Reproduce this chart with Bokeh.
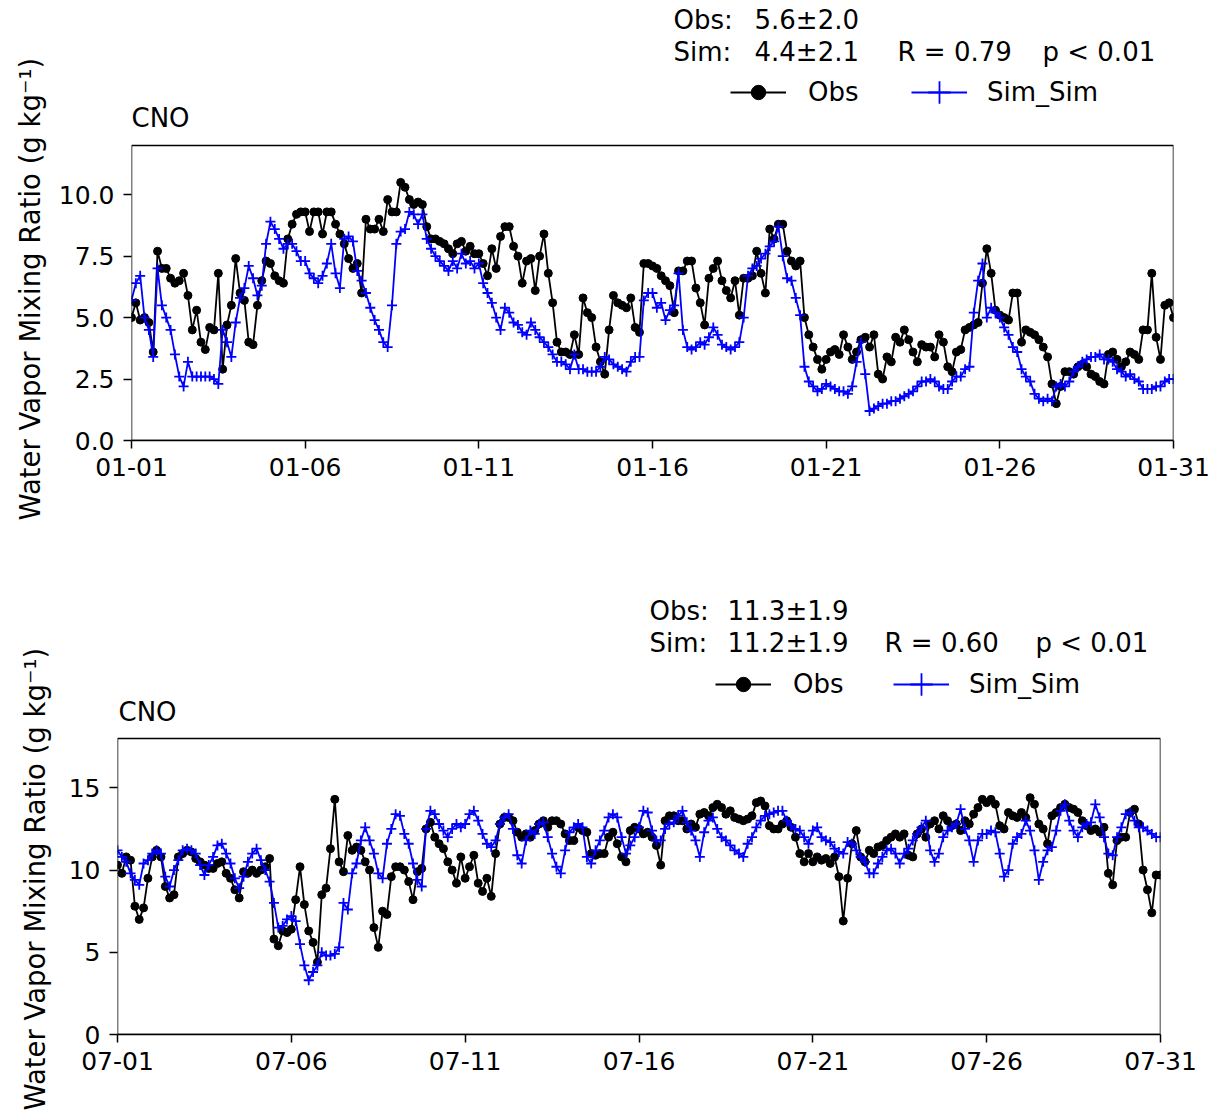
import pandas as pd
from bokeh.plotting import figure
from bokeh.models import (ColumnDataSource, Range1d, FixedTicker, DatetimeTickFormatter,
                          NumeralTickFormatter, Label, Legend, LegendItem, BoxAnnotation, Title)
from bokeh.layouts import column
from bokeh.embed import file_html
from bokeh.resources import INLINE

FONT = "DejaVu Sans"

# ---------------- data (3-hourly) ----------------
jan_obs = [
    5.0, 5.6, 4.9, 5.0, 4.8, 3.6, 7.7, 7.0,
    7.0, 6.6, 6.4, 6.5, 6.8, 5.9, 4.5, 5.3,
    4.0, 3.7, 4.6, 4.5, 6.8, 2.9, 4.7, 5.5,
    7.4, 6.0, 5.7, 4.0, 3.9, 5.5, 6.5, 7.3,
    7.2, 6.7, 6.5, 6.4, 8.2, 8.8, 9.2, 9.3,
    9.3, 8.5, 9.3, 9.3, 8.4, 9.3, 9.3, 8.8,
    8.4, 8.0, 7.4, 7.0, 7.2, 6.0, 9.0, 8.6,
    8.6, 9.0, 8.5, 9.8, 9.3, 9.3, 10.5, 10.3,
    9.8, 9.6, 9.7, 9.6, 8.7, 8.2, 8.2, 8.1,
    8.0, 7.8, 7.6, 8.0, 8.1, 7.7, 7.9, 7.6,
    7.6, 7.2, 6.7, 7.8, 7.0, 8.3, 8.7, 8.7,
    7.9, 7.5, 6.4, 7.3, 7.4, 6.1, 7.5, 8.4,
    6.8, 5.6, 4.0, 3.6, 3.6, 3.5, 4.3, 3.5,
    5.8, 5.2, 5.0, 3.8, 3.2, 2.7, 4.5, 5.9,
    5.6, 5.5, 5.4, 5.8, 4.6, 4.4, 7.2, 7.2,
    7.1, 7.0, 6.7, 6.5, 6.3, 5.2, 6.9, 6.9,
    7.3, 7.3, 6.2, 5.6, 4.7, 6.6, 7.0, 7.3,
    6.5, 6.1, 5.8, 6.5, 5.1, 6.6, 6.6, 6.7,
    7.7, 6.8, 6.0, 8.6, 8.2, 8.8, 8.8, 7.7,
    7.3, 7.1, 7.3, 5.0, 4.3, 3.8, 3.3, 2.9,
    3.3, 3.6, 3.7, 3.5, 4.3, 3.8, 3.3, 3.6,
    4.1, 4.2, 3.8, 4.3, 2.7, 2.5, 3.4, 3.2,
    4.2, 4.0, 4.5, 4.1, 3.6, 3.2, 3.9, 3.8,
    3.8, 3.4, 4.3, 4.0, 3.0, 2.8, 3.6, 3.7,
    4.5, 4.6, 4.7, 4.8, 6.4, 7.8, 6.8, 5.3,
    5.1, 5.0, 4.9, 6.0, 6.0, 4.0, 4.5, 4.4,
    4.3, 4.1, 3.8, 3.4, 2.3, 1.5, 2.2, 2.8,
    2.8, 2.7, 3.0, 3.1, 3.0, 2.7, 2.6, 2.4,
    2.3, 3.5, 3.6, 3.3, 3.0, 3.2, 3.6, 3.5,
    3.3, 4.5, 4.5, 6.8, 4.2, 3.3, 5.5, 5.6,
    5.0,
]
jan_sim = [
    5.7, 6.4, 6.7, 5.0, 4.5, 3.4, 7.0, 5.5,
    5.0, 4.5, 3.5, 2.6, 2.2, 3.2, 2.6, 2.6,
    2.6, 2.6, 2.6, 2.5, 2.3, 4.5, 4.0, 3.4,
    4.8, 5.8, 6.2, 7.1, 6.6, 5.9, 6.3, 8.0,
    8.9, 8.6, 8.2, 7.8, 8.0, 8.0, 7.7, 7.3,
    7.3, 6.8, 6.6, 6.4, 6.7, 7.2, 8.0, 6.8,
    6.2, 8.2, 8.3, 8.1, 6.9, 6.5, 6.0, 5.4,
    4.9, 4.5, 4.0, 3.8, 5.5, 8.0, 8.5, 8.6,
    9.3, 9.2, 8.8, 9.2, 8.2, 7.8, 7.5, 7.3,
    7.1, 6.9, 7.3, 7.0, 7.6, 7.2, 7.3, 7.0,
    7.2, 6.4, 6.0, 5.6, 5.0, 4.5, 5.4, 5.2,
    4.8, 4.7, 4.4, 4.3, 4.8, 4.5, 4.2, 4.0,
    3.8, 3.5, 3.2, 3.2, 3.1, 2.9, 3.5, 2.9,
    2.9, 2.8, 2.8, 2.8, 3.0, 3.4, 3.3, 3.1,
    3.0, 2.9, 2.8, 3.2, 3.4, 3.4, 5.7, 6.0,
    6.0, 5.4, 5.6, 4.9, 5.3, 5.5, 6.8, 4.5,
    3.8, 3.7, 3.8, 4.0, 3.9, 4.2, 4.6, 4.3,
    3.9, 3.8, 3.7, 3.8, 4.0, 5.0, 6.7, 7.0,
    7.1, 7.4, 7.6, 7.9, 8.1, 8.7, 7.5, 6.6,
    6.5, 5.8, 5.1, 3.0, 2.4, 2.2, 2.0, 2.1,
    2.3, 2.2, 2.1, 2.0, 2.0, 1.9, 2.2, 3.2,
    4.0, 2.7, 1.2, 1.3, 1.4, 1.5, 1.5, 1.6,
    1.6, 1.7, 1.8, 1.9, 2.0, 2.2, 2.4, 2.4,
    2.5, 2.4, 2.2, 2.1, 2.1, 2.4, 2.6, 2.6,
    2.9, 3.0, 5.2, 6.5, 7.2, 5.0, 5.4, 5.2,
    5.0, 4.6, 4.3, 3.8, 3.6, 2.9, 2.6, 2.4,
    1.9, 1.7, 1.6, 1.7, 1.6, 2.2, 2.3, 2.2,
    2.4, 2.8, 3.0, 3.2, 3.3, 3.4, 3.4, 3.5,
    3.3, 3.3, 3.2, 2.9, 2.8, 2.6, 2.7, 2.5,
    2.4, 2.1, 2.1, 2.1, 2.2, 2.2, 2.4, 2.5,
    2.5,
]
jul_obs = [
    10.3, 9.8, 10.8, 10.6, 7.8, 7.0, 7.7, 9.5,
    10.8, 11.2, 10.8, 9.0, 8.3, 8.5, 10.8, 11.0,
    11.2, 11.1, 10.7, 10.5, 10.3, 10.1, 10.1, 10.4,
    10.5, 9.8, 9.5, 8.8, 8.3, 9.9, 9.8, 10.0,
    9.8, 10.0, 10.2, 10.7, 5.8, 5.4, 6.3, 6.2,
    6.4, 8.2, 10.2, 7.9, 6.3, 5.6, 4.4, 8.5,
    8.9, 11.3, 14.3, 10.5, 9.9, 12.1, 11.2, 11.4,
    11.2, 10.5, 10.0, 6.5, 5.3, 7.5, 7.3, 9.6,
    10.2, 10.2, 10.0, 9.3, 8.2, 9.9, 10.1, 12.5,
    12.9, 12.0, 11.6, 11.3, 10.5, 10.0, 9.2, 10.8,
    9.5, 10.2, 10.9, 9.2, 8.7, 9.5, 8.4, 11.0,
    12.8, 13.2, 13.2, 13.0, 12.3, 12.0, 12.2, 12.0,
    12.4, 12.8, 13.0, 12.6, 13.0, 13.0, 12.8, 12.2,
    11.8, 11.8, 12.6, 12.4, 12.3, 11.0, 10.9, 11.0,
    11.0, 12.0, 12.3, 11.6, 10.8, 10.5, 12.4, 12.6,
    12.5, 12.2, 12.3, 12.0, 11.5, 10.3, 13.0, 13.3,
    13.3, 13.0, 13.0, 12.5, 12.8, 12.6, 13.4, 13.5,
    13.3, 13.8, 14.0, 13.8, 13.4, 13.6, 13.2, 13.1,
    13.0, 13.1, 13.3, 14.1, 14.2, 13.9, 12.7, 12.5,
    12.5, 12.8, 13.0, 12.6, 12.0, 11.0, 10.5, 11.0,
    10.5, 10.8, 10.6, 10.7, 10.4, 10.8, 9.6, 6.9,
    9.5, 11.6, 12.4, 10.8, 10.5, 11.2, 11.0, 11.4,
    11.5, 11.8, 12.0, 12.2, 12.0, 12.2, 10.9, 10.8,
    12.2, 12.5, 12.0, 12.8, 13.0, 12.5, 13.3, 13.0,
    12.7, 12.8, 12.4, 13.0, 12.8, 13.4, 13.8, 14.3,
    14.1, 14.3, 14.0, 12.7, 12.5, 13.5, 13.3, 13.2,
    13.5, 13.2, 14.4, 14.0, 12.8, 12.5, 11.6, 13.3,
    13.5, 13.8, 14.0, 13.8, 13.7, 13.5, 13.0, 12.7,
    12.4, 12.5, 12.3, 12.6, 9.8, 9.1, 11.8, 12.0,
    12.0, 13.5, 13.7, 12.8, 10.0, 8.8, 7.4, 9.7,
    9.7,
]
jul_sim = [
    11.2, 10.8, 10.5, 9.8, 9.4, 9.1, 10.4, 10.6,
    11.0, 11.2, 11.0, 9.6, 9.0, 10.0, 10.6, 11.2,
    11.3, 11.2, 11.0, 10.3, 9.7, 10.3, 10.8, 11.5,
    11.6, 11.0, 10.4, 9.5, 8.9, 9.6, 10.5, 11.0,
    11.3, 10.6, 10.0, 9.3, 8.0, 6.5, 6.6, 7.0,
    7.2, 6.9, 5.5, 4.2, 3.3, 3.8, 4.2, 5.0,
    4.8, 4.8, 4.9, 5.3, 8.0, 7.6, 9.8, 10.4,
    11.8, 12.6, 11.8, 11.0, 9.8, 9.5, 11.6, 12.5,
    13.4, 13.3, 12.2, 11.6, 10.4, 9.4, 9.0, 12.5,
    13.6, 13.4, 12.8, 12.4, 12.0, 12.5, 12.8, 12.6,
    12.8, 13.4, 13.6, 13.0, 12.2, 11.6, 11.4, 11.8,
    12.8, 13.2, 13.4, 12.5, 10.9, 10.4, 11.8, 12.4,
    12.2, 12.8, 12.9, 12.0, 11.0, 10.2, 9.8, 11.2,
    12.3, 12.6, 12.8, 12.6, 10.8, 10.4, 11.2, 11.8,
    12.4, 13.2, 13.4, 13.2, 12.0, 11.0, 11.5, 12.0,
    12.6, 13.6, 13.5, 12.4, 11.8, 11.8, 12.5, 12.8,
    12.9, 13.3, 13.6, 12.9, 12.4, 11.8, 10.8, 12.3,
    13.0, 13.2, 12.5, 12.0, 11.8, 11.5, 11.2, 11.0,
    10.8, 11.6, 12.0, 12.6, 13.0, 13.3, 13.4, 13.5,
    13.6, 13.6, 13.0, 12.7, 12.5, 12.4, 12.0, 11.6,
    12.4, 12.6, 12.0, 11.8, 11.7, 11.3, 11.1, 11.0,
    11.7, 11.6, 11.2, 10.8, 10.5, 9.8, 9.8, 10.4,
    10.8, 11.2, 11.3, 11.0, 10.4, 11.0, 11.3, 11.8,
    12.2, 12.6, 13.0, 11.2, 10.5, 11.0, 12.0, 12.4,
    12.6, 12.8, 13.7, 12.5, 11.8, 10.5, 11.8, 12.2,
    12.2, 12.4, 12.3, 11.0, 9.6, 10.0, 11.6, 12.0,
    12.2, 13.0, 12.4, 11.2, 9.4, 10.5, 11.2, 11.4,
    12.4, 13.6, 14.0, 13.0, 12.4, 12.0, 12.6, 12.8,
    12.9, 14.0, 13.2, 12.0, 11.0, 10.9, 12.0, 12.6,
    13.4, 13.5, 13.0, 12.6, 12.6, 12.4, 12.2, 12.0,
    12.0,
]

jan_start = "2019-01-01"
jul_start = "2019-07-01"
jan_xticks = ["2019-01-01", "2019-01-06", "2019-01-11", "2019-01-16",
              "2019-01-21", "2019-01-26", "2019-01-31"]
jul_xticks = ["2019-07-01", "2019-07-06", "2019-07-11", "2019-07-16",
              "2019-07-21", "2019-07-26", "2019-07-31"]
jan_yticks = [0, 2.5, 5, 7.5, 10]
jul_yticks = [0, 5, 10, 15]
jan_ymax = 12
jul_ymax = 18
station = "CNO"
jan_stats = {"obs": "5.6±2.0", "sim": "4.4±2.1", "r": "R = 0.79", "p": "p < 0.01"}
jul_stats = {"obs": "11.3±1.9", "sim": "11.2±1.9", "r": "R = 0.60", "p": "p < 0.01"}
ylabel = "Water Vapor Mixing Ratio (g kg\u207b\u00b9)"


def ms(t):
    return pd.Timestamp(t).value / 1e6


def make_panel(obs, sim, start, xticks, yticks, ymax, yfmt, stats, g):
    times = pd.date_range(start, periods=len(obs), freq="3h")
    src = ColumnDataSource(dict(t=times, obs=obs, sim=sim))
    # the frame spans from the top of the canvas to the bottom of the axes box;
    # the axes box itself (0..ymax) occupies the lower box_h pixels
    frame_h = g["height"] - g["bottom"]
    y_end = ymax * frame_h / g["box_h"]
    p = figure(width=g["width"], height=g["height"], x_axis_type="datetime",
               x_range=Range1d(ms(xticks[0]), ms(xticks[-1])),
               y_range=Range1d(0, y_end),
               output_backend="svg", toolbar_location=None,
               min_border_left=g["left"], min_border_right=g["right"],
               min_border_top=0, min_border_bottom=g["bottom"])
    p.frame_align = False
    p.xgrid.visible = False
    p.ygrid.visible = False
    p.background_fill_color = "white"
    p.border_fill_color = "white"
    p.outline_line_color = None

    l_obs = p.line("t", "obs", source=src, line_color="black", line_width=1.8)
    s_obs = p.scatter("t", "obs", source=src, marker="circle", size=8,
                      fill_color="black", line_color="black")
    l_sim = p.line("t", "sim", source=src, line_color="#0000ff", line_width=1.8)
    s_sim = p.scatter("t", "sim", source=src, marker="cross", size=10,
                      line_color="#0000ff", line_width=1.8)

    p.add_layout(BoxAnnotation(left=ms(xticks[0]), right=ms(xticks[-1]), bottom=0, top=ymax,
                               fill_alpha=0, line_color="black", line_alpha=1.0,
                               line_width=1.5))

    xa = p.xaxis[0]
    xa.ticker = FixedTicker(ticks=[ms(t) for t in xticks])
    xa.formatter = DatetimeTickFormatter(days="%m-%d", months="%m-%d", hours="%m-%d",
                                         hourmin="%m-%d", minutes="%m-%d",
                                         years="%m-%d")
    ya = p.yaxis[0]
    ya.ticker = FixedTicker(ticks=yticks)
    ya.formatter = NumeralTickFormatter(format=yfmt)
    for ax in (xa, ya):
        ax.axis_line_width = 1.5
        ax.major_tick_line_width = 1.5
        ax.major_tick_line_color = "black"
        ax.major_tick_out = 8
        ax.major_tick_in = 0
        ax.minor_tick_out = 0
        ax.minor_tick_in = 0
        ax.major_label_text_font = FONT
        ax.major_label_text_font_size = "25px"
        ax.major_label_text_color = "black"
        ax.major_label_standoff = 9
    xa.axis_line_color = "black"
    ya.axis_line_color = None

    p.add_layout(Title(text=ylabel, align="left", offset=g["ylab_offset"],
                       standoff=g["ylab_standoff"], text_font=FONT, text_font_size="27.5px",
                       text_font_style="normal", text_color="black"), "left")

    def lab(x, y, text):
        p.add_layout(Label(x=x, y=y, x_units="screen", y_units="screen", text=text,
                           text_font=FONT, text_font_size="26px", text_color="black",
                           text_baseline="middle", text_align="left"))

    ox, nx, rx, px, y1, y2, cx, cy = g["stats"]
    lab(ox, y1, "Obs:")
    lab(nx, y1, stats["obs"])
    lab(ox, y2, "Sim:")
    lab(nx, y2, stats["sim"])
    lab(rx, y2, stats["r"])
    lab(px, y2, stats["p"])
    lab(cx, cy, station)

    (lx1, ly1), (lx2, ly2) = g["legend"]
    common = dict(orientation="horizontal", padding=0, margin=0, spacing=0,
                  border_line_alpha=0, background_fill_alpha=0,
                  label_text_font=FONT, label_text_font_size="26px",
                  label_text_color="black", glyph_width=56)
    leg1 = Legend(items=[LegendItem(label="Obs", renderers=[l_obs, s_obs])],
                  location=(lx1, ly1), glyph_height=36, label_standoff=22, **common)
    leg2 = Legend(items=[LegendItem(label="Sim_Sim", renderers=[l_sim, s_sim])],
                  location=(lx2, ly2), glyph_height=56, label_standoff=20, **common)
    p.add_layout(leg1)
    p.add_layout(leg2)
    return p


p1 = make_panel(jan_obs, jan_sim, jan_start, jan_xticks, jan_yticks, jan_ymax, "0.0", jan_stats,
                dict(width=1224, height=588, left=131, right=51, bottom=148, box_h=295,
                     ylab_offset=-80, ylab_standoff=20,
                     stats=(542, 623, 766, 911, 421, 389, 0, 323),
                     legend=((599, 330), (780, 320))))
p2 = make_panel(jul_obs, jul_sim, jul_start, jul_xticks, jul_yticks, jul_ymax, "0", jul_stats,
                dict(width=1224, height=528, left=117, right=64, bottom=82, box_h=296,
                     ylab_offset=-76, ylab_standoff=30,
                     stats=(532, 610, 767, 918, 424, 392, 1, 323),
                     legend=((598, 332), (776, 322))))

layout = column(p1, p2, spacing=0)
open("out.html", "w").write(file_html(layout, INLINE))
